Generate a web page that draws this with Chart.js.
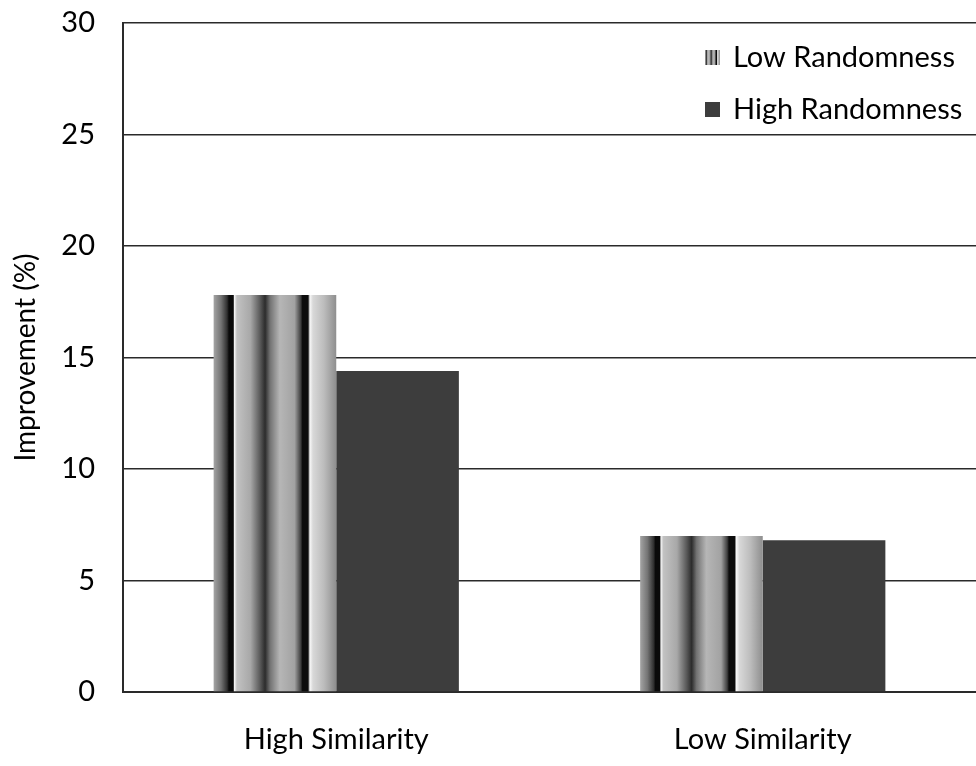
<!DOCTYPE html>
<html>
<head>
<meta charset="utf-8">
<script src="https://cdn.jsdelivr.net/npm/chart.js@4.4.1/dist/chart.umd.min.js"></script>
<style>
  html, body { margin: 0; padding: 0; background: #fff; }
  #wrap { width: 976px; height: 766px; }
</style>
</head>
<body>
<div id="wrap"><canvas id="improvement" width="976" height="766"></canvas></div>
<script>
const categories = ['High Similarity', 'Low Similarity'];
const lowRandomness = [17.8, 7.0];
const highRandomness = [14.4, 6.8];
const seriesNames = ['Low Randomness', 'High Randomness'];
const yTicks = [0, 5, 10, 15, 20, 25, 30];

const FONT = 'Lato, "Open Sans", sans-serif';
const CAT_PCT = 0.575;

// shaded stripes of the "cylinder" fill, as offsets across one bar
const stripeStops = [
  [0.00, '#a4a4a4'], [0.06, '#747474'], [0.11, '#303030'], [0.125, '#0a0a0a'],
  [0.16, '#0a0a0a'], [0.17, '#f4f4f4'], [0.19, '#c2c2c2'], [0.30, '#a8a8a8'],
  [0.38, '#585858'], [0.42, '#2c2c2c'], [0.46, '#727272'], [0.54, '#b6b6b6'],
  [0.66, '#a2a2a2'], [0.71, '#404040'], [0.725, '#0c0c0c'], [0.77, '#0c0c0c'],
  [0.785, '#f8f8f8'], [0.81, '#d8d8d8'], [0.90, '#bcbcbc'], [1.00, '#8e8e8e']
];

function stripeGradient(g, left, width) {
  const grad = g.createLinearGradient(left, 0, left + width, 0);
  stripeStops.forEach(([o, c]) => grad.addColorStop(o, c));
  return grad;
}

function lowFill(ctx) {
  const chart = ctx.chart;
  const xs = chart.scales.x;
  if (!chart.chartArea || !xs || ctx.type !== 'data') return '#9a9a9a';
  const catWidth = xs.width / categories.length;
  const barWidth = catWidth * CAT_PCT / 2;
  const left = xs.getPixelForValue(ctx.dataIndex) - barWidth;
  return stripeGradient(chart.ctx, left, barWidth);
}

// legend sits inside the plot, top right
const insideLegend = {
  id: 'insideLegend',
  afterDraw(chart) {
    const g = chart.ctx;
    const x0 = 705, sw = 15;
    const rows = [57, 109];
    g.save();
    g.font = '29px ' + FONT;
    g.textBaseline = 'middle';
    rows.forEach((y, i) => {
      g.fillStyle = i === 0 ? stripeGradient(g, x0, sw) : '#3d3d3d';
      g.fillRect(x0, y - 7, sw, sw);
      g.fillStyle = '#000';
      g.fillText(seriesNames[i], x0 + 28, y + 1);
    });
    g.restore();
  }
};

new Chart(document.getElementById('improvement'), {
  type: 'bar',
  data: {
    labels: categories,
    datasets: [
      {
        label: seriesNames[0],
        data: lowRandomness,
        backgroundColor: lowFill,
        borderWidth: 0
      },
      {
        label: seriesNames[1],
        data: highRandomness,
        backgroundColor: '#3d3d3d',
        borderWidth: 0
      }
    ]
  },
  options: {
    responsive: false,
    animation: false,
    layout: { padding: { top: 23, right: 0, left: 0, bottom: 0 } },
    plugins: {
      legend: { display: false },
      tooltip: { enabled: false }
    },
    datasets: {
      bar: { categoryPercentage: CAT_PCT, barPercentage: 1 }
    },
    scales: {
      x: {
        grid: { display: false, drawTicks: false },
        border: { display: true, color: '#2a2a2a', width: 2 },
        ticks: { color: '#000', font: { family: FONT, size: 29 }, padding: 30 },
        afterFit(scale) {
          scale.height = 74;
          scale.paddingLeft = 0;
          scale.paddingRight = 0;
        }
      },
      y: {
        min: 0,
        max: 30,
        afterBuildTicks(scale) { scale.ticks = yTicks.map(v => ({ value: v })); },
        grid: { color: '#2a2a2a', lineWidth: 1.5, drawTicks: false },
        border: { display: true, color: '#2a2a2a', width: 2 },
        ticks: { color: '#000', font: { family: FONT, size: 29 }, padding: 28 },
        title: {
          display: true,
          text: 'Improvement (%)',
          color: '#000',
          font: { family: FONT, size: 28 },
          padding: { top: 9, bottom: 0 }
        },
        afterFit(scale) {
          scale.width = 123;
          scale.paddingTop = 0;
          scale.paddingBottom = 0;
        }
      }
    }
  },
  plugins: [insideLegend]
});
</script>
</body>
</html>
